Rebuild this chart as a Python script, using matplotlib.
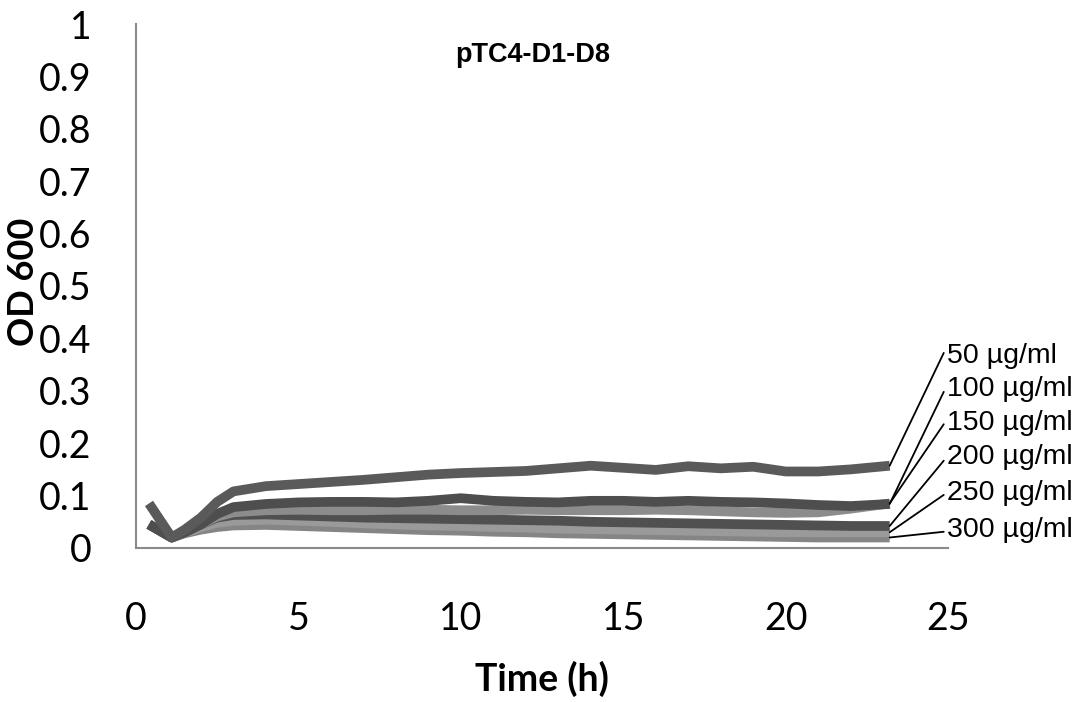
import matplotlib
matplotlib.use("Agg")
import matplotlib.pyplot as plt

# tiempo (h)
tiempo = [0.4, 1.1, 1.5, 2, 2.5, 3, 4, 5, 6, 7, 8, 9, 10, 11, 12, 13, 14,
          15, 16, 17, 18, 19, 20, 21, 22, 23.2]

# OD 600 por concentracion
od_50 = [0.085, 0.02, 0.035, 0.058, 0.088, 0.108, 0.118, 0.122, 0.126, 0.13, 0.135, 0.14, 0.143,
         0.145, 0.147, 0.152, 0.157, 0.153, 0.149, 0.156, 0.152, 0.155, 0.146, 0.146, 0.15, 0.157]
od_100 = [0.045, 0.02, 0.03, 0.045, 0.065, 0.078, 0.084, 0.087, 0.088, 0.088, 0.087, 0.09, 0.095,
          0.09, 0.088, 0.087, 0.09, 0.09, 0.088, 0.09, 0.088, 0.087, 0.085, 0.082, 0.08, 0.084]
od_150 = [0.045, 0.02, 0.03, 0.045, 0.06, 0.068, 0.072, 0.073, 0.072, 0.072, 0.073, 0.073, 0.072,
          0.072, 0.073, 0.072, 0.072, 0.072, 0.073, 0.072, 0.07, 0.068, 0.067, 0.068, 0.075, 0.085]
od_200 = [0.045, 0.02, 0.03, 0.045, 0.058, 0.063, 0.064, 0.062, 0.06, 0.058, 0.057, 0.056, 0.055,
          0.054, 0.053, 0.052, 0.05, 0.049, 0.048, 0.047, 0.046, 0.045, 0.044, 0.043, 0.042, 0.042]
od_250 = [0.045, 0.02, 0.03, 0.04, 0.048, 0.052, 0.054, 0.052, 0.05, 0.047, 0.045, 0.043, 0.042,
          0.04, 0.039, 0.037, 0.036, 0.035, 0.034, 0.033, 0.032, 0.031, 0.03, 0.03, 0.03, 0.03]
od_300 = [0.045, 0.02, 0.028, 0.035, 0.04, 0.043, 0.044, 0.042, 0.04, 0.038, 0.036, 0.034, 0.033,
          0.031, 0.03, 0.028, 0.027, 0.026, 0.025, 0.024, 0.023, 0.022, 0.021, 0.02, 0.02, 0.02]

etiquetas = ['50 µg/ml', '100 µg/ml', '150 µg/ml', '200 µg/ml', '250 µg/ml', '300 µg/ml']
series = [od_50, od_100, od_150, od_200, od_250, od_300]
colores = ['#5a5a5a', '#4e4e4e', '#8c8c8c', '#505050', '#9a9a9a', '#858585']
# posicion vertical de cada etiqueta (en unidades de OD)
y_etiquetas = [0.366, 0.303, 0.239, 0.174, 0.105, 0.034]
rel_linea = [0.85, 0.62, 0.6, 0.48, 0.5, 0.45]

fig = plt.figure(figsize=(10.75, 7.02), dpi=100)
ax = fig.add_axes([0.1265, 0.2194, 0.7555, 0.7464])

orden = [5, 4, 3, 2, 1, 0]
for i in orden:
    ax.plot(tiempo, series[i], color=colores[i], lw=7, solid_capstyle='butt',
            solid_joinstyle='round')

for i in range(len(etiquetas)):
    ax.annotate(etiquetas[i], xy=(tiempo[-1], series[i][-1]), xytext=(24.95, y_etiquetas[i]),
                textcoords='data', ha='left', va='center', fontsize=20.5,
                family='Liberation Sans', annotation_clip=False,
                arrowprops=dict(arrowstyle='-', color='black', lw=1.3, shrinkA=0, shrinkB=0,
                                relpos=(0, rel_linea[i])))

ax.set_xlim(0, 25)
ax.set_ylim(0, 1)
ax.set_xticks([0, 5, 10, 15, 20, 25])
ax.set_yticks([i / 10 for i in range(11)])
ax.set_yticklabels(['0', '0.1', '0.2', '0.3', '0.4', '0.5', '0.6', '0.7', '0.8', '0.9', '1'])

for lab in ax.get_xticklabels() + ax.get_yticklabels():
    lab.set_family('Lato')
    lab.set_fontsize(27)
ax.tick_params(axis='x', length=0, pad=38)
ax.tick_params(axis='y', length=0, pad=32)

ax.spines['top'].set_visible(False)
ax.spines['right'].set_visible(False)
ax.spines['left'].set_color('#8a8a8a')
ax.spines['bottom'].set_color('#8a8a8a')
ax.spines['left'].set_linewidth(1.5)
ax.spines['bottom'].set_linewidth(1.5)

ax.set_ylabel('OD 600', family='Lato', fontweight='bold', fontsize=26)
ax.yaxis.set_label_coords(-0.118, 0.508)
ax.set_xlabel('Time (h)', family='Lato', fontweight='bold', fontsize=27)
ax.xaxis.set_label_coords(0.5, -0.215)

ax.text(0.489, 0.941, 'pTC4-D1-D8', transform=ax.transAxes, ha='center', va='center',
        family='Liberation Sans', fontweight='bold', fontsize=19.5)

fig.savefig('out.png', dpi=100)
